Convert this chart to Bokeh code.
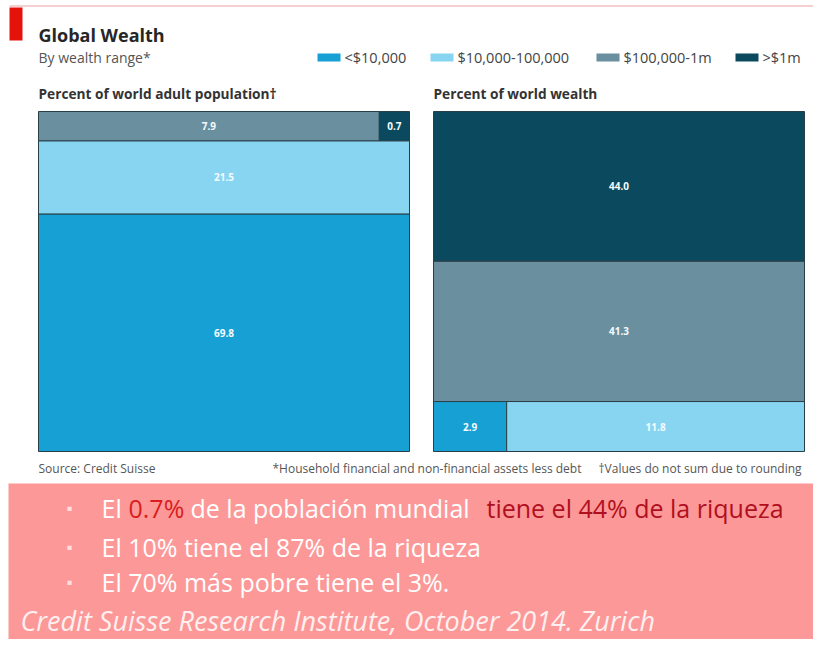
from bokeh.plotting import figure
from bokeh.models import Range1d, ColumnDataSource
from bokeh.embed import file_html
from bokeh.resources import INLINE
from bokeh.core.properties import value

# ---- data ----
categories = ["<$10,000", "$10,000-100,000", "$100,000-1m", ">$1m"]
colors = ["#17a0d3", "#88d5f2", "#6a909f", "#0b4a5e"]
population_pct = [69.8, 21.5, 7.9, 0.7]
wealth_pct = [2.9, 11.8, 41.3, 44.0]
# which wealth bands share a row of the mosaic (bottom row first)
population_rows = [[0], [1], [2, 3]]
wealth_rows = [[0, 1], [2], [3]]

title = "Global Wealth"
subtitle = "By wealth range*"
left_header = "Percent of world adult population\u2020"
right_header = "Percent of world wealth"
source_note = "Source: Credit Suisse"
note1 = "*Household financial and non-financial assets less debt"
note2 = "\u2020Values do not sum due to rounding"
caption = "Credit Suisse Research  Institute, October 2014. Zurich"

W, H = 813, 639
FONT = value("Open Sans")

p = figure(width=W, height=H, x_range=Range1d(0, W), y_range=Range1d(H, 0),
           output_backend="svg", toolbar_location=None,
           x_axis_type=None, y_axis_type=None, min_border=0)
p.grid.visible = False
p.outline_line_color = None
p.background_fill_color = "white"
p.border_fill_color = "white"


def mosaic(values, rows):
    total = sum(values)
    d = dict(left=[], right=[], bottom=[], top=[], fill=[], label=[], lx=[], ly=[])
    y = 0.0
    for row in rows:
        rs = sum(values[i] for i in row)
        h = rs / total * 100
        x = 0.0
        for i in row:
            w = values[i] / rs * 100
            d["left"].append(x)
            d["right"].append(x + w)
            d["bottom"].append(y)
            d["top"].append(y + h)
            d["fill"].append(colors[i])
            d["label"].append(f"{values[i]:.1f}")
            d["lx"].append(x + w / 2)
            d["ly"].append(y + h / 2)
            x += w
        y += h
    return ColumnDataSource(d)


def add_panel(name, px0, px1, py0, py1, values, rows):
    sx = (px1 - px0) / 100.0
    sy = (py1 - py0) / 100.0
    p.extra_x_ranges[name] = Range1d(-px0 / sx, (W - px0) / sx)
    p.extra_y_ranges[name] = Range1d((py1 - H) / sy, py1 / sy)
    src = mosaic(values, rows)
    p.quad(left="left", right="right", bottom="bottom", top="top", fill_color="fill",
           line_color="#2a3e47", line_width=1, source=src,
           x_range_name=name, y_range_name=name)
    p.text(x="lx", y="ly", text="label", source=src, x_range_name=name, y_range_name=name,
           text_align="center", text_baseline="middle", text_color="#f4fbff",
           text_font=FONT, text_font_size="10px", text_font_style="bold")


add_panel("pop", 38, 409, 111, 451, population_pct, population_rows)
add_panel("wealth", 433, 804, 111, 451, wealth_pct, wealth_rows)

# ---- header ----
p.segment(x0=[9], y0=[5.5], x1=[W], y1=[5.5], line_color="#eaa0a0", line_width=1)
p.quad(left=[9], right=[22], top=[7], bottom=[40], fill_color="#e3120b", line_color=None)
p.text(x=[38], y=[34], text=[title], text_font=FONT, text_font_size="18px",
       text_font_style="bold", text_color="#262626", text_baseline="middle")
p.text(x=[38], y=[57], text=[subtitle], text_font=FONT, text_font_size="14px",
       text_color="#555555", text_baseline="middle")

sw_left = [317, 430, 596, 735]
leg_src = ColumnDataSource(dict(l=sw_left, r=[v + 23 for v in sw_left],
                                tx=[v + 27 for v in sw_left], lab=categories, c=colors))
p.quad(left="l", right="r", top=53, bottom=61, fill_color="c", line_color=None, source=leg_src)
p.text(x="tx", y=57, text="lab", source=leg_src, text_font=FONT, text_font_size="14.5px",
       text_color="#444444", text_baseline="middle")

p.text(x=[38, 433], y=[93, 93], text=[left_header, right_header], text_font=FONT,
       text_font_size="13.7px", text_font_style="bold", text_color="#333333",
       text_baseline="middle")

# ---- footer ----
p.text(x=[38, 272, 598], y=[468, 468, 468], text=[source_note, note1, note2], text_font=FONT,
       text_font_size="12px", text_color="#555555", text_baseline="middle")

# ---- pink box ----
p.quad(left=[8], right=[W], top=[483], bottom=[H], fill_color="#fd9898", line_color=None)
p.text(x=[66, 66, 66], y=[507, 546, 581], text=["\u25aa"] * 3, text_font=FONT,
       text_font_size="17px", text_color="#ffdede", text_baseline="middle")
p.text(x=[101, 128, 190, 486], y=[507] * 4,
       text=["El", "0.7%", "de la poblaci\u00f3n  mundial", "tiene el 44% de la riqueza"],
       text_color=["white", "#d81e1e", "white", "#b0101e"], text_font=FONT,
       text_font_size="25px", text_baseline="middle")
p.text(x=[101, 101], y=[546, 581], text=["El 10% tiene el 87% de la riqueza", "El 70% m\u00e1s pobre tiene el 3%."],
       text_color="white", text_font=FONT, text_font_size="25px", text_baseline="middle")
p.text(x=[20], y=[620], text=[caption], text_color="#fff0f0", text_font=FONT,
       text_font_size="27px", text_font_style="italic", text_baseline="middle")

open("out.html", "w").write(file_html(p, INLINE))
